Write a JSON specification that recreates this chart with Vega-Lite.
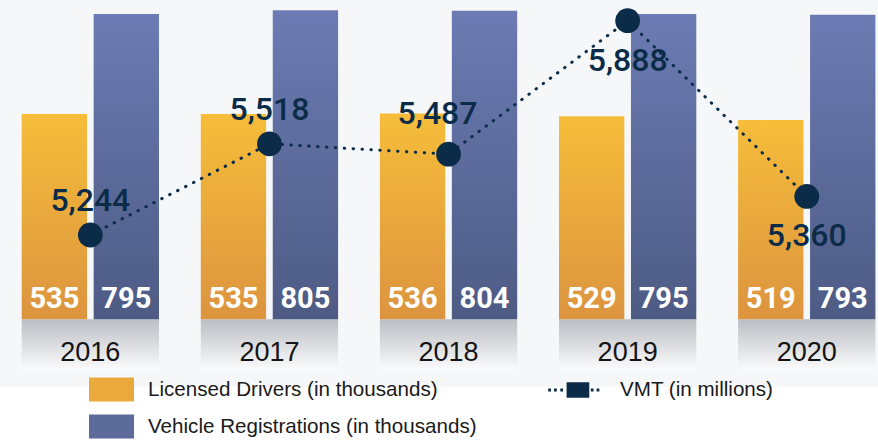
{
  "$schema": "https://vega.github.io/schema/vega-lite/v6.json",
  "width": 878,
  "height": 387,
  "autosize": {"type": "none"},
  "padding": {"left": 0, "top": 0, "right": 0, "bottom": 54},
  "background": "#ffffff",
  "config": {"view": {"stroke": null, "fill": "#f6f7f9"}},
  "datasets": {
    "bars": [
      {"year": "2016", "series": "Licensed Drivers (in thousands)", "value": 535},
      {"year": "2016", "series": "Vehicle Registrations (in thousands)", "value": 795},
      {"year": "2017", "series": "Licensed Drivers (in thousands)", "value": 535},
      {"year": "2017", "series": "Vehicle Registrations (in thousands)", "value": 805},
      {"year": "2018", "series": "Licensed Drivers (in thousands)", "value": 536},
      {"year": "2018", "series": "Vehicle Registrations (in thousands)", "value": 804},
      {"year": "2019", "series": "Licensed Drivers (in thousands)", "value": 529},
      {"year": "2019", "series": "Vehicle Registrations (in thousands)", "value": 795},
      {"year": "2020", "series": "Licensed Drivers (in thousands)", "value": 519},
      {"year": "2020", "series": "Vehicle Registrations (in thousands)", "value": 793}
    ],
    "vmt": [
      {"year": "2016", "measure": "VMT (in millions)", "vmt": 5244},
      {"year": "2017", "measure": "VMT (in millions)", "vmt": 5518},
      {"year": "2018", "measure": "VMT (in millions)", "vmt": 5487},
      {"year": "2019", "measure": "VMT (in millions)", "vmt": 5888},
      {"year": "2020", "measure": "VMT (in millions)", "vmt": 5360}
    ]
  },
  "encoding": {
    "x": {
      "field": "year",
      "type": "ordinal",
      "scale": {"type": "band", "paddingInner": 0.2334, "paddingOuter": 0.0678, "align": 0.893},
      "axis": {
        "orient": "bottom",
        "title": null,
        "domain": false,
        "ticks": false,
        "tickSize": 0,
        "grid": false,
        "labelFont": "Liberation Sans",
        "labelFontSize": 27,
        "labelColor": "#141414",
        "labelPadding": -27,
        "labelBaseline": "alphabetic",
        "labelAngle": 0,
        "labelOverlap": false,
        "zindex": 1
      }
    }
  },
  "layer": [
    {
      "data": {"name": "bars"},
      "layer": [
        {
          "transform": [{"filter": {"field": "series", "equal": "Licensed Drivers (in thousands)"}}],
          "mark": {
            "type": "bar",
            "fill": {"gradient": "linear", "x1": 0, "y1": 0, "x2": 0, "y2": 1,
              "stops": [{"offset": 0, "color": "#bbbec3"}, {"offset": 1, "color": "#fbfbfc"}]}
          },
          "encoding": {
            "y": {"datum": 0, "type": "quantitative", "scale": {"domain": [-176.3, 831.7], "nice": false, "zero": false}, "axis": null},
            "y2": {"datum": -132.1}
          }
        },
        {
          "transform": [{"filter": {"field": "series", "equal": "Licensed Drivers (in thousands)"}}],
          "mark": {
            "type": "bar",
            "fill": {"gradient": "linear", "x1": 0, "y1": 0, "x2": 0, "y2": 1,
              "stops": [{"offset": 0, "color": "#f6bd3a"}, {"offset": 1, "color": "#dc943f"}]}
          },
          "encoding": {
            "xOffset": {"field": "series", "type": "nominal", "scale": {"domain": ["Licensed Drivers (in thousands)", "Vehicle Registrations (in thousands)"], "paddingInner": 0.092, "paddingOuter": 0}},
            "y": {"field": "value", "type": "quantitative", "scale": {"domain": [-176.3, 831.7], "nice": false, "zero": false}, "axis": null}
          }
        },
        {
          "transform": [{"filter": {"field": "series", "equal": "Vehicle Registrations (in thousands)"}}],
          "mark": {
            "type": "bar",
            "fill": {"gradient": "linear", "x1": 0, "y1": 0, "x2": 0, "y2": 1,
              "stops": [{"offset": 0, "color": "#6c7bb3"}, {"offset": 1, "color": "#4d5b84"}]}
          },
          "encoding": {
            "xOffset": {"field": "series", "type": "nominal", "scale": {"domain": ["Licensed Drivers (in thousands)", "Vehicle Registrations (in thousands)"], "paddingInner": 0.092, "paddingOuter": 0}},
            "y": {"field": "value", "type": "quantitative", "scale": {"domain": [-176.3, 831.7], "nice": false, "zero": false}, "axis": null}
          }
        },
        {
          "mark": {"type": "text", "font": "Roboto", "fontSize": 29, "fontWeight": "bold", "color": "#ffffff", "baseline": "alphabetic", "dy": -11},
          "encoding": {
            "xOffset": {"field": "series", "type": "nominal", "scale": {"domain": ["Licensed Drivers (in thousands)", "Vehicle Registrations (in thousands)"], "paddingInner": 0.092, "paddingOuter": 0}},
            "y": {"datum": 0, "type": "quantitative", "scale": {"domain": [-176.3, 831.7], "nice": false, "zero": false}, "axis": null},
            "text": {"field": "value", "type": "quantitative"}
          }
        }
      ]
    },
    {
      "data": {"name": "vmt"},
      "layer": [
        {
          "mark": {"type": "line", "stroke": "#0a2c48", "strokeWidth": 3, "strokeDash": [0.5, 8.4], "strokeCap": "round"},
          "encoding": {
            "y": {"field": "vmt", "type": "quantitative", "scale": {"domain": [4787.3, 5950.2], "nice": false, "zero": false}, "axis": null}
          }
        },
        {
          "mark": {"type": "point", "shape": "circle", "filled": true, "size": 615, "color": "#0a2c48", "opacity": 1},
          "encoding": {
            "y": {"field": "vmt", "type": "quantitative", "scale": {"domain": [4787.3, 5950.2], "nice": false, "zero": false}, "axis": null}
          }
        },
        {
          "transform": [{"filter": {"field": "year", "oneOf": ["2016", "2017"]}}],
          "mark": {"type": "text", "font": "Roboto", "fontSize": 32, "fontWeight": 500, "color": "#0a2c48", "baseline": "alphabetic", "dy": -24},
          "encoding": {
            "y": {"field": "vmt", "type": "quantitative", "scale": {"domain": [4787.3, 5950.2], "nice": false, "zero": false}, "axis": null},
            "text": {"field": "vmt", "type": "quantitative", "format": ","}
          }
        },
        {
          "transform": [{"filter": {"field": "year", "oneOf": ["2018"]}}],
          "mark": {"type": "text", "font": "Roboto", "fontSize": 32, "fontWeight": 500, "color": "#0a2c48", "baseline": "alphabetic", "dy": -30, "dx": -11},
          "encoding": {
            "y": {"field": "vmt", "type": "quantitative", "scale": {"domain": [4787.3, 5950.2], "nice": false, "zero": false}, "axis": null},
            "text": {"field": "vmt", "type": "quantitative", "format": ","}
          }
        },
        {
          "transform": [{"filter": {"field": "year", "oneOf": ["2019", "2020"]}}],
          "mark": {"type": "text", "font": "Roboto", "fontSize": 32, "fontWeight": 500, "color": "#0a2c48", "baseline": "alphabetic", "dy": 50},
          "encoding": {
            "y": {"field": "vmt", "type": "quantitative", "scale": {"domain": [4787.3, 5950.2], "nice": false, "zero": false}, "axis": null},
            "text": {"field": "vmt", "type": "quantitative", "format": ","}
          }
        }
      ]
    },
    {
      "data": {"name": "bars"},
      "transform": [{"filter": {"field": "series", "equal": "Licensed Drivers (in thousands)"}}],
      "mark": {"type": "point", "filled": true, "opacity": 0, "color": "#eaa93c"},
      "encoding": {
        "y": {"field": "value", "type": "quantitative", "axis": null},
        "shape": {
          "field": "series",
          "type": "nominal",
          "scale": {"domain": ["Licensed Drivers (in thousands)"], "range": ["M-1,-0.533H1V0.533H-1Z"]},
          "legend": {
            "orient": "none",
            "legendX": 89,
            "legendY": 367,
            "direction": "vertical",
            "title": null,
            "padding": 0,
            "symbolSize": 2025,
            "symbolStrokeWidth": 0,
            "symbolOpacity": 1,
            "labelFont": "Liberation Sans",
            "labelFontSize": 20.6,
            "labelColor": "#1a1a1a",
            "labelOffset": 14,
            "labelLimit": 500,
            "encode": {
              "symbols": {
                "fill": {"value": {"gradient": "linear", "x1": 0, "y1": 0, "x2": 0, "y2": 1,
                  "stops": [{"offset": 0, "color": "#f6bd3a"}, {"offset": 1, "color": "#dc943f"}]}},
                "stroke": {"value": "transparent"},
                "opacity": {"value": 1}
              }
            }
          }
        }
      }
    },
    {
      "data": {"name": "bars"},
      "transform": [{"filter": {"field": "series", "equal": "Vehicle Registrations (in thousands)"}}],
      "mark": {"type": "point", "filled": true, "opacity": 0, "color": "#5d6b9b"},
      "encoding": {
        "y": {"field": "value", "type": "quantitative", "axis": null},
        "shape": {
          "field": "series",
          "type": "nominal",
          "scale": {"domain": ["Vehicle Registrations (in thousands)"], "range": ["M-1,-0.533H1V0.533H-1Z"]},
          "legend": {
            "orient": "none",
            "legendX": 89,
            "legendY": 404,
            "direction": "vertical",
            "title": null,
            "padding": 0,
            "symbolSize": 2025,
            "symbolStrokeWidth": 0,
            "symbolOpacity": 1,
            "labelFont": "Liberation Sans",
            "labelFontSize": 20.6,
            "labelColor": "#1a1a1a",
            "labelOffset": 14,
            "labelLimit": 500,
            "encode": {
              "symbols": {
                "fill": {"value": {"gradient": "linear", "x1": 0, "y1": 0, "x2": 0, "y2": 1,
                  "stops": [{"offset": 0, "color": "#6c7bb3"}, {"offset": 1, "color": "#4d5b84"}]}},
                "stroke": {"value": "transparent"},
                "opacity": {"value": 1}
              }
            }
          }
        }
      }
    },
    {
      "data": {"name": "vmt"},
      "mark": {"type": "point", "filled": true, "opacity": 0, "color": "#0a2c48"},
      "encoding": {
        "y": {"field": "vmt", "type": "quantitative", "axis": null},
        "shape": {
          "field": "measure",
          "type": "nominal",
          "scale": {"domain": ["VMT (in millions)"], "range": ["M-0.3,-0.277H0.51V0.277H-0.3Z M-0.957,-0.05H-0.857V0.05H-0.957Z M-0.75,-0.05H-0.65V0.05H-0.75Z M-0.525,-0.05H-0.425V0.05H-0.525Z M0.564,-0.05H0.664V0.05H0.564Z M0.77,-0.05H0.87V0.05H0.77Z"]},
          "legend": {
            "orient": "none",
            "legendX": 547,
            "legendY": 362,
            "direction": "vertical",
            "title": null,
            "padding": 0,
            "symbolSize": 3136,
            "symbolStrokeWidth": 0,
            "symbolOpacity": 1,
            "labelFont": "Liberation Sans",
            "labelFontSize": 20.6,
            "labelColor": "#1a1a1a",
            "labelOffset": 17,
            "labelLimit": 500,
            "encode": {
              "symbols": {
                "fill": {"value": "#0a2c48"},
                "stroke": {"value": "transparent"},
                "opacity": {"value": 1}
              }
            }
          }
        }
      }
    }
  ],
  "resolve": {"scale": {"y": "independent", "shape": "independent"}}
}
